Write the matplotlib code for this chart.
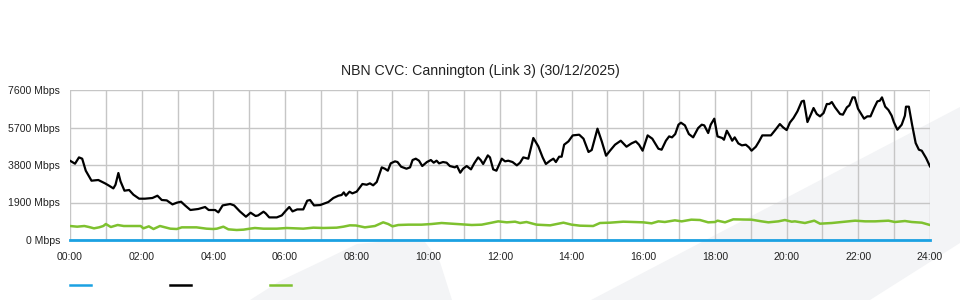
import matplotlib
matplotlib.use('Agg')
import matplotlib.pyplot as plt
from matplotlib.patches import Polygon
from matplotlib.lines import Line2D

# hours since midnight, Mbps
black_t = [0.00, 0.14, 0.25, 0.34, 0.44, 0.60, 0.79, 0.98, 1.09, 1.21, 1.27, 1.35, 1.41, 1.52,
           1.65, 1.77, 1.93, 2.09, 2.30, 2.44, 2.56, 2.70, 2.86, 2.98, 3.10, 3.21, 3.36, 3.58,
           3.77, 3.87, 4.05, 4.14, 4.26, 4.47, 4.58, 4.74, 4.91, 5.04, 5.18, 5.25, 5.40, 5.46,
           5.56, 5.77, 5.91, 6.03, 6.12, 6.21, 6.34, 6.51, 6.62, 6.70, 6.81, 6.98, 7.21, 7.35,
           7.49, 7.58, 7.64, 7.70, 7.80, 7.88, 8.00, 8.16, 8.28, 8.37, 8.46, 8.56, 8.70, 8.79,
           8.87, 8.95, 9.07, 9.14, 9.24, 9.39, 9.49, 9.56, 9.65, 9.74, 9.83, 9.96, 10.07, 10.15,
           10.23, 10.30, 10.41, 10.51, 10.60, 10.74, 10.80, 10.89, 10.97, 11.07, 11.19, 11.28,
           11.39, 11.46, 11.53, 11.66, 11.72, 11.81, 11.90, 12.05, 12.14, 12.23, 12.35, 12.47,
           12.56, 12.65, 12.79, 12.93, 13.07, 13.19, 13.28, 13.40, 13.49, 13.56, 13.65, 13.72,
           13.79, 13.91, 14.03, 14.21, 14.33, 14.47, 14.56, 14.72, 14.84, 14.96, 15.07, 15.21,
           15.37, 15.53, 15.67, 15.79, 15.88, 15.98, 16.12, 16.25, 16.42, 16.51, 16.63, 16.72,
           16.80, 16.89, 16.98, 17.05, 17.16, 17.27, 17.39, 17.53, 17.63, 17.70, 17.81, 17.88,
           17.98, 18.07, 18.20, 18.25, 18.33, 18.42, 18.48, 18.55, 18.65, 18.75, 18.86, 18.95,
           19.02, 19.14, 19.23, 19.32, 19.47, 19.56, 19.68, 19.81, 19.90, 20.00, 20.09, 20.19,
           20.30, 20.42, 20.48, 20.58, 20.68, 20.75, 20.84, 20.93, 21.03, 21.12, 21.19, 21.26,
           21.35, 21.49, 21.57, 21.68, 21.75, 21.84, 21.90, 21.99, 22.16, 22.25, 22.34, 22.44,
           22.53, 22.60, 22.66, 22.75, 22.84, 22.93, 22.99, 23.09, 23.21, 23.30, 23.33, 23.41,
           23.50, 23.60, 23.69, 23.77, 23.89, 24.00]
black_v = [4018, 3866, 4185, 4120, 3511, 3005, 3040, 2868, 2752, 2615, 2802, 3395, 2970, 2498,
           2534, 2295, 2093, 2093, 2128, 2245, 2027, 2007, 1804, 1890, 1940, 1753, 1520, 1571,
           1672, 1520, 1520, 1400, 1753, 1824, 1753, 1449, 1180, 1383, 1216, 1246, 1434, 1350,
           1145, 1145, 1246, 1500, 1672, 1449, 1550, 1550, 1991, 2027, 1753, 1770, 1925, 2128,
           2245, 2280, 2412, 2245, 2447, 2362, 2450, 2837, 2800, 2870, 2770, 2939, 3680, 3610,
           3511, 3883, 3985, 3950, 3714, 3612, 3680, 4053, 4120, 4018, 3748, 3950, 4053, 3917,
           4018, 3883, 3950, 3917, 3748, 3680, 3748, 3410, 3612, 3748, 3578, 3883,
           4185, 4053, 3850, 4287, 4185, 3578, 3511, 4120, 3985, 4018, 3950, 3782,
           3917, 4185, 4120, 5168, 4743, 4185, 3850, 4018, 4120, 3950, 4220, 4220,
           4829, 4996, 5300, 5335, 5133, 4459, 4560, 5640, 4996, 4271, 4525, 4829,
           5031, 4727, 4895, 4996, 4829, 4525, 5300, 5133, 4625, 4575, 5031, 5250,
           5200, 5368, 5842, 5943, 5808, 5370, 5200, 5673, 5842, 5808, 5420, 5842,
           6147, 5250, 5168, 5080, 5538, 5250, 5031, 5200, 4895, 4795, 4829, 4690,
           4525, 4727, 4996, 5300, 5300, 5300, 5570, 5876, 5707, 5570, 5950, 6180,
           6517, 7023, 7057, 5977, 6383, 6687, 6383, 6265, 6433, 6890, 6890, 6990,
           6720, 6383, 6350, 6720, 6822, 7226, 7226, 6653, 6147, 6265, 6265, 6687,
           7023, 7057, 7226, 6755, 6586, 6300, 5977, 5588, 5842, 6300, 6755, 6755,
           5842, 4912, 4575, 4525, 4155, 3730]

green_t = [0.00, 0.20, 0.40, 0.53, 0.67, 0.81, 0.93, 1.00, 1.14, 1.33, 1.50, 1.97, 2.05, 2.20,
           2.33, 2.51, 2.80, 2.98, 3.12, 3.53, 3.81, 4.00, 4.10, 4.28, 4.42, 4.65, 4.84, 5.02,
           5.16, 5.40, 5.77, 6.05, 6.51, 6.79, 7.07, 7.44, 7.63, 7.81, 7.98, 8.23, 8.51, 8.74,
           8.88, 9.00, 9.16, 9.44, 9.81, 10.09, 10.37, 10.65, 10.93, 11.21, 11.49, 11.77, 11.95,
           12.19, 12.42, 12.56, 12.74, 13.02, 13.40, 13.77, 14.00, 14.23, 14.60, 14.79, 15.07,
           15.44, 15.72, 16.00, 16.23, 16.42, 16.60, 16.88, 17.07, 17.34, 17.58, 17.81, 18.00,
           18.07, 18.28, 18.51, 19.02, 19.30, 19.49, 19.77, 19.95, 20.14, 20.23, 20.51, 20.77,
           20.93, 21.26, 21.54, 21.91, 22.19, 22.47, 22.84, 23.02, 23.30, 23.49, 23.77, 24.00]
green_v = [709, 675, 709, 658, 591, 641, 709, 810, 658, 760, 709, 709, 591, 692,
           557, 709, 574, 557, 641, 641, 574, 557, 574, 675, 540, 507, 524, 574,
           608, 574, 574, 608, 574, 625, 608, 625, 675, 743, 735, 641, 709, 895,
           810, 692, 760, 777, 777, 810, 861, 827, 794, 760, 777, 878, 945,
           895, 928, 861, 912, 777, 743, 878, 777, 726, 709, 861, 878,
           928, 912, 895, 844, 945, 912, 996, 945, 1030, 1013, 895, 912,
           979, 895, 1047, 1030, 945, 895, 945, 1013, 928, 945, 861, 979,
           827, 861, 912, 979, 945, 945, 979, 912, 962, 912, 878, 760]

blue_t = [0, 24]
blue_v = [0, 0]

y_ticks = [0, 1900, 3800, 5700, 7600]
y_labels = ['0 Mbps', '1900 Mbps', '3800 Mbps', '5700 Mbps', '7600 Mbps']
x_ticks = list(range(0, 25, 2))
x_labels = ['%02d:00' % h for h in x_ticks]

plt.rcParams['font.family'] = ['Liberation Sans', 'DejaVu Sans']

W, H = 960, 300
fig = plt.figure(figsize=(9.6, 3), dpi=100)


def px(x, y):
    return (x / W, 1 - y / H)


# faint background logo shapes
wm = '#f3f4f6'
fig.add_artist(Polygon([px(591, 300), px(960, 107), px(960, 243), px(870, 300)],
                       closed=True, transform=fig.transFigure, fc=wm, ec='none', zorder=0))
fig.add_artist(Polygon([px(250, 300), px(280, 281), px(320, 262), px(357, 244), px(390, 241),
                        px(425, 242), px(440, 262), px(452, 300)],
                       closed=True, transform=fig.transFigure, fc=wm, ec='none', zorder=0))

ax = fig.add_axes([70 / W, 60 / H, 860 / W, 150 / H])
ax.set_facecolor('none')
ax.set_zorder(1)

ax.plot(green_t, green_v, color='#7ec12f', lw=1.8, zorder=3)
ax.plot(black_t, black_v, color='#000000', lw=1.6, zorder=4)
ax.plot(blue_t, blue_v, color='#1ba1e2', lw=2.0, zorder=5, clip_on=False)

ax.set_xlim(0, 24)
ax.set_ylim(0, 7600)
ax.set_xticks(x_ticks)
ax.set_xticklabels(x_labels)
ax.set_xticks(range(0, 25), minor=True)
ax.set_yticks(y_ticks)
ax.set_yticklabels(y_labels)
ax.grid(True, which='both', axis='x', color='#c6c6c6', lw=1.0, zorder=1)
ax.grid(True, which='major', axis='y', color='#c6c6c6', lw=1.0, zorder=1)
ax.tick_params(axis='both', which='both', length=0, labelsize=7.6, colors='#222222')
ax.tick_params(axis='x', pad=9)
ax.tick_params(axis='y', pad=7)
for s in ax.spines.values():
    s.set_visible(False)

fig.text(0.5, 1 - 71 / H, 'NBN CVC: Cannington (Link 3) (30/12/2025)',
         ha='center', va='center', fontsize=10.2, color='#222222')

# legend swatches (labels are blank in the source)
for x0, c in [(70, '#1ba1e2'), (170, '#000000'), (270, '#7ec12f')]:
    (xa, ya), (xb, _) = px(x0, 285), px(x0 + 21, 285)
    fig.add_artist(Line2D([xa, xb], [ya, ya], transform=fig.transFigure, color=c, lw=1.8))

fig.savefig('out.png', dpi=100)
